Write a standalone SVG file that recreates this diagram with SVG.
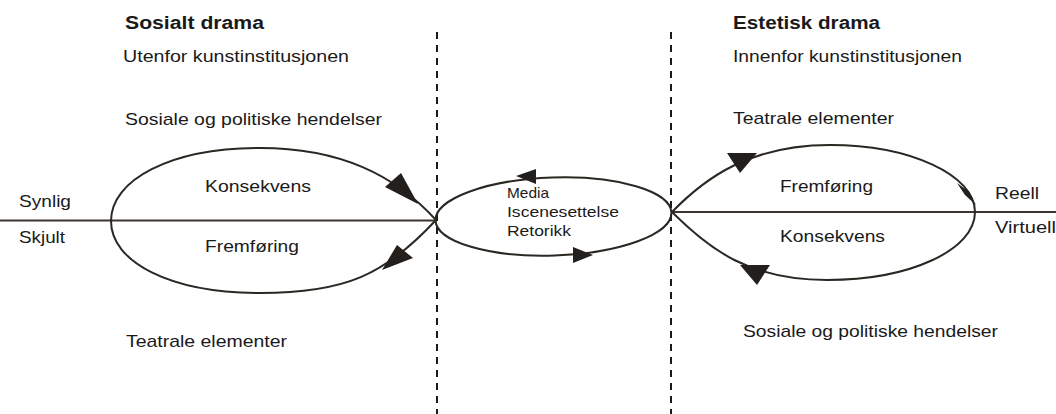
<svg xmlns="http://www.w3.org/2000/svg" width="1056" height="414" viewBox="0 0 1056 414">
<style>
text{font-family:"Liberation Sans",Arial,sans-serif;fill:#1a1a1a;font-size:17px}
.h{font-weight:bold;font-size:18px}
.s{font-size:15px}
.loop{fill:none;stroke:#2b2722;stroke-width:2}
.axis{stroke:#3a3530;stroke-width:1.8}
.dash{stroke:#1a1a1a;stroke-width:2;stroke-dasharray:7 6}
.ah{fill:#231f1c}
</style>
<rect width="1056" height="414" fill="#fff"/>
<g id="connectors">
<line class="dash" x1="437" y1="32" x2="437" y2="414"/>
<line class="dash" x1="671" y1="32" x2="671" y2="414"/>
<line class="axis" x1="0" y1="220.5" x2="436" y2="220.5"/>
<line class="axis" x1="672" y1="212" x2="1056" y2="212"/>
</g>
<g id="left-loop">
<path class="loop" d="M436,220 C395,175 340,148 260,148 C170,148 111,180 111,221 C111,262 170,293 260,293 C345,293 385,275 436,220"/>
<polygon class="ah" points="385,187 401,173 418,204"/>
<polygon class="ah" points="397,245 413,258 382,270"/>
<text x="205" y="192" textLength="106" lengthAdjust="spacingAndGlyphs">Konsekvens</text>
<text x="205" y="252" textLength="94" lengthAdjust="spacingAndGlyphs">Fremføring</text>
</g>
<g id="middle">
<ellipse class="loop" cx="553.5" cy="216.5" rx="118" ry="39" transform="rotate(-1.9 553.5 216.5)"/>
<polygon class="ah" points="516,176 536,169 536,184"/>
<polygon class="ah" points="573,247 573,263 593,255"/>
<text class="s" x="507" y="198" textLength="42" lengthAdjust="spacingAndGlyphs">Media</text>
<text class="s" x="507" y="217" textLength="112" lengthAdjust="spacingAndGlyphs">Iscenesettelse</text>
<text class="s" x="507" y="236" textLength="64" lengthAdjust="spacingAndGlyphs">Retorikk</text>
</g>
<g id="right-loop">
<path class="loop" d="M672,212 C705,178 750,145 830,145 C910,145 975,175 975,212 C975,250 910,280 827,280 C750,280 710,250 672,212"/>
<polygon class="ah" points="727,153 757,153 740,173"/>
<polygon class="ah" points="740,265 770,265 757,285"/>
<polygon class="ah" points="957,183 968,191 976,205 965,195"/>
<text x="780" y="192" textLength="93" lengthAdjust="spacingAndGlyphs">Fremføring</text>
<text x="780" y="242" textLength="105" lengthAdjust="spacingAndGlyphs">Konsekvens</text>
</g>
<g id="axis-labels">
<text x="19" y="207" textLength="52" lengthAdjust="spacingAndGlyphs">Synlig</text>
<text x="19" y="243" textLength="46" lengthAdjust="spacingAndGlyphs">Skjult</text>
<text x="995" y="199" textLength="44" lengthAdjust="spacingAndGlyphs">Reell</text>
<text x="995" y="233" textLength="61" lengthAdjust="spacingAndGlyphs">Virtuell</text>
</g>
<g id="social-drama">
<text class="h" x="125" y="29" textLength="139" lengthAdjust="spacingAndGlyphs">Sosialt drama</text>
<text x="123" y="62" textLength="226" lengthAdjust="spacingAndGlyphs">Utenfor kunstinstitusjonen</text>
<text x="125" y="125" textLength="257" lengthAdjust="spacingAndGlyphs">Sosiale og politiske hendelser</text>
<text x="126" y="347" textLength="161" lengthAdjust="spacingAndGlyphs">Teatrale elementer</text>
</g>
<g id="aesthetic-drama">
<text class="h" x="733" y="29" textLength="147" lengthAdjust="spacingAndGlyphs">Estetisk drama</text>
<text x="733" y="62" textLength="229" lengthAdjust="spacingAndGlyphs">Innenfor kunstinstitusjonen</text>
<text x="733" y="124" textLength="161" lengthAdjust="spacingAndGlyphs">Teatrale elementer</text>
<text x="743" y="337" textLength="255" lengthAdjust="spacingAndGlyphs">Sosiale og politiske hendelser</text>
</g>
</svg>
